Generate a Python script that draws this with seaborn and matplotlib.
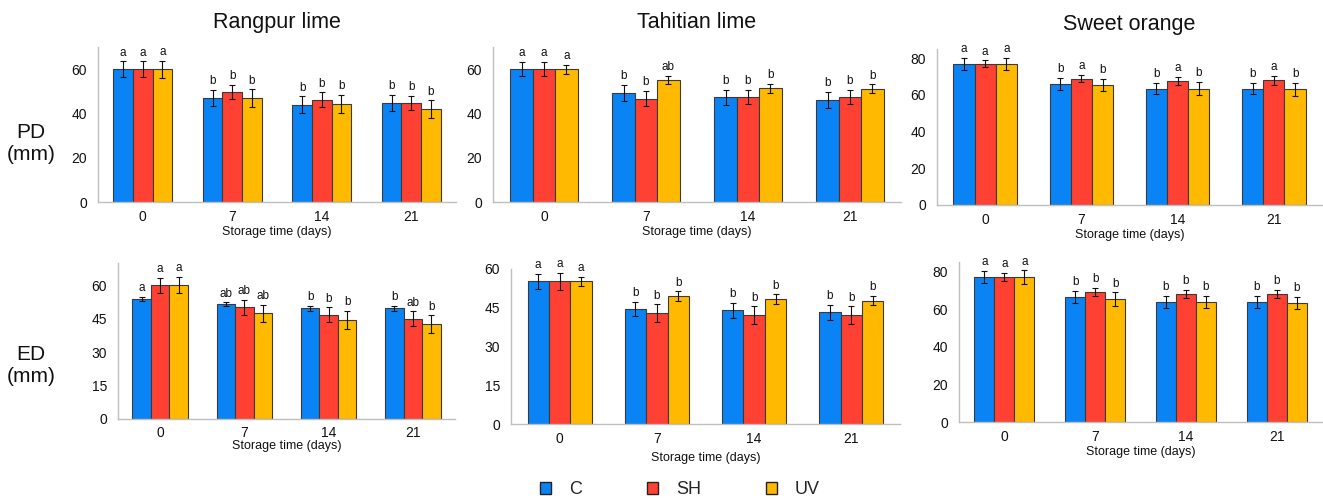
import numpy as np
import pandas as pd
import matplotlib
matplotlib.use("Agg")
import matplotlib.pyplot as plt
from matplotlib.patches import Patch
import seaborn as sns

sns.set_style("white")
plt.rcParams['font.family'] = ['Liberation Sans', 'DejaVu Sans']

days = ["0", "7", "14", "21"]
treatments = ["C", "SH", "UV"]
colors = {"C": "#0A84F5", "SH": "#FF4133", "UV": "#FFBA00"}
titles = ["Rangpur lime", "Tahitian lime", "Sweet orange"]
row_labels = ["PD\n(mm)", "ED\n(mm)"]
xlabel = "Storage time (days)"

# PD values (mm) per cultivar: C, SH, UV over days 0, 7, 14, 21
pd_rangpur_C = [60.0, 47.0, 44.0, 44.7]
pd_rangpur_SH = [60.0, 49.6, 46.2, 44.7]
pd_rangpur_UV = [60.0, 47.0, 44.3, 42.0]
pd_rangpur_C_err = [3.5, 3.7, 3.7, 3.5]
pd_rangpur_SH_err = [3.5, 3.3, 3.3, 3.1]
pd_rangpur_UV_err = [3.8, 3.9, 4.0, 3.9]
pd_rangpur_let = [["a", "b", "b", "b"], ["a", "b", "b", "b"], ["a", "b", "b", "b"]]

pd_tahiti_C = [60.0, 49.3, 47.2, 46.2]
pd_tahiti_SH = [60.0, 46.7, 47.5, 47.5]
pd_tahiti_UV = [60.0, 55.1, 51.4, 51.1]
pd_tahiti_C_err = [3.3, 3.5, 3.5, 3.7]
pd_tahiti_SH_err = [3.3, 3.4, 3.1, 3.1]
pd_tahiti_UV_err = [2.0, 2.0, 2.0, 2.0]
pd_tahiti_let = [["a", "b", "b", "b"], ["a", "b", "b", "b"], ["a", "ab", "b", "b"]]

pd_orange_C = [77.0, 66.1, 63.4, 63.4]
pd_orange_SH = [77.0, 68.8, 67.7, 67.9]
pd_orange_UV = [77.0, 65.5, 63.4, 63.0]
pd_orange_C_err = [3.3, 3.3, 3.1, 3.1]
pd_orange_SH_err = [1.8, 2.0, 2.2, 2.4]
pd_orange_UV_err = [3.3, 3.3, 3.5, 3.4]
pd_orange_let = [["a", "b", "b", "b"], ["a", "a", "a", "a"], ["a", "b", "b", "b"]]

# ED values (mm)
ed_rangpur_C = [53.9, 51.4, 49.6, 49.6]
ed_rangpur_SH = [60.0, 50.1, 46.8, 45.0]
ed_rangpur_UV = [60.0, 47.4, 44.4, 42.5]
ed_rangpur_C_err = [0.9, 0.9, 1.0, 1.2]
ed_rangpur_SH_err = [3.3, 3.3, 3.3, 3.3]
ed_rangpur_UV_err = [3.6, 3.7, 4.0, 4.0]
ed_rangpur_let = [["a", "ab", "b", "b"], ["a", "ab", "b", "ab"], ["a", "ab", "b", "b"]]

ed_tahiti_C = [55.2, 44.5, 44.1, 43.2]
ed_tahiti_SH = [55.2, 42.8, 42.1, 42.1]
ed_tahiti_UV = [55.2, 49.5, 48.3, 47.8]
ed_tahiti_C_err = [3.0, 2.8, 2.9, 3.0]
ed_tahiti_SH_err = [3.2, 3.5, 3.4, 3.4]
ed_tahiti_UV_err = [1.8, 1.8, 1.9, 1.7]
ed_tahiti_let = [["a", "b", "b", "b"], ["a", "b", "b", "b"], ["a", "b", "b", "b"]]

ed_orange_C = [77.0, 66.3, 63.7, 63.7]
ed_orange_SH = [77.0, 69.0, 68.0, 68.0]
ed_orange_UV = [77.0, 65.3, 63.7, 63.3]
ed_orange_C_err = [3.3, 3.3, 3.1, 3.1]
ed_orange_SH_err = [2.1, 2.1, 2.1, 2.2]
ed_orange_UV_err = [3.5, 3.6, 3.2, 3.1]
ed_orange_let = [["a", "b", "b", "b"], ["a", "b", "b", "b"], ["a", "b", "b", "b"]]

panels = [
    (pd_rangpur_C, pd_rangpur_SH, pd_rangpur_UV, pd_rangpur_C_err, pd_rangpur_SH_err, pd_rangpur_UV_err, pd_rangpur_let),
    (pd_tahiti_C, pd_tahiti_SH, pd_tahiti_UV, pd_tahiti_C_err, pd_tahiti_SH_err, pd_tahiti_UV_err, pd_tahiti_let),
    (pd_orange_C, pd_orange_SH, pd_orange_UV, pd_orange_C_err, pd_orange_SH_err, pd_orange_UV_err, pd_orange_let),
    (ed_rangpur_C, ed_rangpur_SH, ed_rangpur_UV, ed_rangpur_C_err, ed_rangpur_SH_err, ed_rangpur_UV_err, ed_rangpur_let),
    (ed_tahiti_C, ed_tahiti_SH, ed_tahiti_UV, ed_tahiti_C_err, ed_tahiti_SH_err, ed_tahiti_UV_err, ed_tahiti_let),
    (ed_orange_C, ed_orange_SH, ed_orange_UV, ed_orange_C_err, ed_orange_SH_err, ed_orange_UV_err, ed_orange_let),
]

ylims = [70, 70, 85, 70, 60, 85]
yticks = [[0, 20, 40, 60], [0, 20, 40, 60], [0, 20, 40, 60, 80],
          [0, 15, 30, 45, 60], [0, 15, 30, 45, 60], [0, 20, 40, 60, 80]]

W, H = 1323, 501
# pixel boxes: x0, x1, ytop, ybottom
boxes = [(98, 456, 47, 202), (493, 901, 47, 202), (937, 1322, 49, 205),
         (118, 455, 263, 419), (511, 900, 269, 424), (959, 1322, 262, 422)]
xtick_pads = [6, 6, 6, 5, 6, 6]
xlabel_pads = [1, 1, 1, 0, 4, 1]

fig = plt.figure(figsize=(W / 100, H / 100), dpi=100)

for i, (box, pnl) in enumerate(zip(boxes, panels)):
    x0, x1, yt, yb = box
    ax = fig.add_axes([x0 / W, 1 - yb / H, (x1 - x0) / W, (yb - yt) / H])
    cvals, svals, uvals, cerr, serr, uerr, lets = pnl
    df = pd.DataFrame({
        "day": days * 3,
        "treatment": ["C"] * 4 + ["SH"] * 4 + ["UV"] * 4,
        "value": list(cvals) + list(svals) + list(uvals),
    })
    errs = [cerr, serr, uerr]
    sns.barplot(data=df, x="day", y="value", hue="treatment", order=days,
                hue_order=treatments, palette=colors, width=0.66,
                edgecolor="#3a3a3a", linewidth=0.8, errorbar=None,
                legend=False, ax=ax, saturation=1)
    bar_containers = list(ax.containers)
    for k, cont in enumerate(bar_containers):
        for j, bar in enumerate(cont.patches):
            xc = bar.get_x() + bar.get_width() / 2
            h = bar.get_height()
            e = errs[k][j]
            ax.errorbar(xc, h, yerr=e, color="#111111", elinewidth=0.8,
                        capsize=2, capthick=0.8, fmt="none", zorder=5)
            ax.annotate(lets[k][j], (xc, h + e), xytext=(0, 2),
                        textcoords="offset points", ha="center", va="bottom",
                        fontsize=8.5, color="#111111")
    ax.set_ylim(0, ylims[i])
    ax.set_xlim(-0.5, 3.5)
    ax.set_yticks(yticks[i])
    ax.tick_params(axis="both", length=0, labelsize=10, colors="#111111")
    ax.tick_params(axis="x", pad=xtick_pads[i])
    ax.tick_params(axis="y", pad=8)
    ax.set_ylabel("")
    ax.set_xlabel(xlabel, fontsize=9, labelpad=xlabel_pads[i], color="#111111")
    for s in ["top", "right"]:
        ax.spines[s].set_visible(False)
    for s in ["left", "bottom"]:
        ax.spines[s].set_color("#BFBFBF")
        ax.spines[s].set_linewidth(1.0)
    if i == 4:
        ax.set_xticks([0.5, 1.5, 2.5], minor=True)
        ax.tick_params(axis="x", which="minor", length=5, color="#BFBFBF", width=0.8)
    if i < 3:
        ax.set_title(titles[i], fontsize=15.5, pad=14, color="#111111")

fig.text(31 / W, 1 - 144 / H, row_labels[0], ha="center", va="center", fontsize=15, color="#111111")
fig.text(31 / W, 1 - 365 / H, row_labels[1], ha="center", va="center", fontsize=15, color="#111111")

handles = [Patch(facecolor=colors[t], edgecolor="#222222", linewidth=1.0, label=t) for t in treatments]
fig.legend(handles=handles, loc="center", bbox_to_anchor=(680 / W, 1 - 490 / H), ncol=3,
           frameon=False, fontsize=13, handlelength=0.6, handleheight=0.6,
           handletextpad=1.0, columnspacing=3.6)

fig.savefig("out.png", dpi=100)
